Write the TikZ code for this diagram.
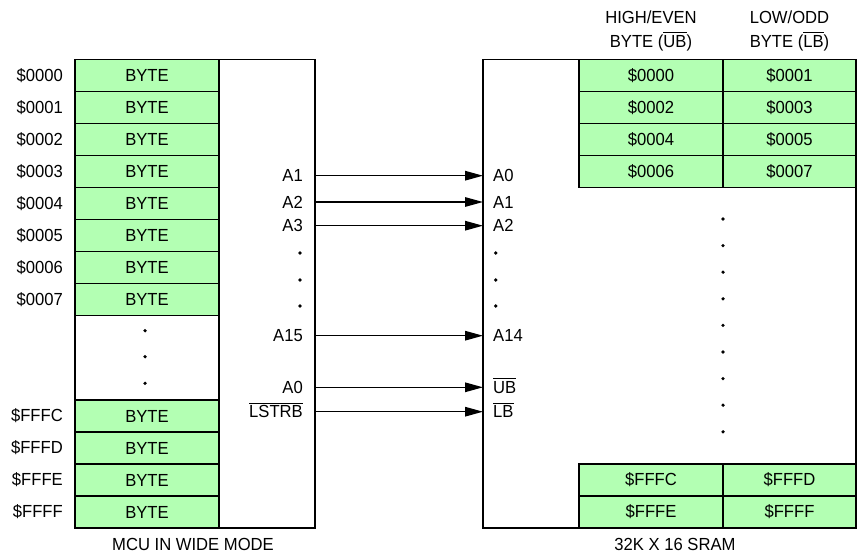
\documentclass[tikz,border=0pt]{standalone}
\usepackage{fontspec}
\setmainfont{Liberation Sans}[FakeStretch=0.95]
\usetikzlibrary{positioning,arrows.meta}
\definecolor{cellgreen}{RGB}{179,255,179}
\newcommand{\ovl}[1]{\begingroup\setbox0\hbox{#1}\rlap{\rule[14.2pt]{\wd0}{1.1pt}}\box0\endgroup}
\tikzset{
  box/.style={draw,line width=1.5pt,inner sep=0pt,outer sep=0pt},
  cell/.style={box,fill=cellgreen,minimum height=32pt},
  addr/.style={inner sep=0pt},
  sigl/.style={anchor=east,inner sep=0pt,text height=12.5pt,text depth=0pt},
  sigr/.style={anchor=west,inner sep=0pt,text height=12.5pt,text depth=0pt},
  head/.style={align=center,inner sep=0pt},
  sig/.style={line width=1.4pt,-{Triangle[length=18pt,width=9.5pt]}},
  dot/.style={fill=black},
}

\begin{document}
\begin{tikzpicture}[x=1pt,y=-1pt,font=\fontsize{17.5pt}{23.5pt}\selectfont]
  \useasboundingbox (0,0) rectangle (857,556);
  % MCU side
  \node[box,minimum width=240pt,minimum height=468.5pt] (mcu) at (195,293.75) {};
  \foreach \i/\a in {0/0000,1/0001,2/0002,3/0003,4/0004,5/0005,6/0006,7/0007} {
    \node[cell,minimum width=144pt] (m\i) at (147,75.5+32*\i) {BYTE};
    \node[addr,left=12pt of m\i] (ma\i) {\$\a};
  }
  \foreach \i/\a in {8/FFFC,9/FFFD,10/FFFE,11/FFFF} {
    \node[cell,minimum width=144pt] (m\i) at (147,416+32*\i-256) {BYTE};
    \node[addr,left=12pt of m\i] (ma\i) {\$\a};
  }
  \draw[line width=1.5pt] (m7.south east) -- (m8.north east);
  \foreach \y in {330.7,356.7,383.3} {\fill[dot] (145,\y) circle (1.8pt);}
  \node (capM) at (193,544) {MCU IN WIDE MODE};

  % SRAM side
  \node[box,minimum width=373pt,minimum height=468.5pt] (sram) at (669.5,293.75) {};
  \foreach \i/\e/\o in {0/0000/0001,1/0002/0003,2/0004/0005,3/0006/0007} {
    \node[cell,minimum width=144pt] (e\i) at (651,75.5+32*\i) {\$\e};
    \node[cell,minimum width=133pt,right=0pt of e\i] (o\i) {\$\o};
  }
  \foreach \i/\e/\o in {4/FFFC/FFFD,5/FFFE/FFFF} {
    \node[cell,minimum width=144pt] (e\i) at (651,480+32*\i-128) {\$\e};
    \node[cell,minimum width=133pt,right=0pt of e\i] (o\i) {\$\o};
  }
  \foreach \k in {0,...,8} {\fill[dot] (723,219+26.6*\k) circle (1.8pt);}
  \node[head] (hEven) at (651,31) {HIGH/EVEN\\BYTE (\ovl{UB})};
  \node[head] (hOdd) at (789.5,31) {LOW/ODD\\BYTE (\ovl{LB})};
  \node (capS) at (675,544) {32K X 16 SRAM};

  % address and strobe lines
  \node[sigl] (pA1) at (303,175.7) {A1};
  \node[sigl] (pA2) at (303,202) {A2};
  \node[sigl] (pA3) at (303,225.7) {A3};
  \node[sigl] (pA15) at (303,335.7) {A15};
  \node[sigl] (pA0) at (303,387.3) {A0};
  \node[sigl] (pLS) at (303,411.7) {\ovl{LSTRB}};
  \node[sigr] (qA0) at (493,175.7) {A0};
  \node[sigr] (qA1) at (493,202) {A1};
  \node[sigr] (qA2) at (493,225.7) {A2};
  \node[sigr] (qA14) at (493,335.7) {A14};
  \node[sigr] (qUB) at (493,387.3) {\ovl{UB}};
  \node[sigr] (qLB) at (493,411.7) {\ovl{LB}};
  \foreach \y in {253,280,306} {
    \fill[dot] (300,\y) circle (1.8pt);
    \fill[dot] (495.7,\y) circle (1.8pt);
  }
  \foreach \p/\q in {pA1/qA0,pA2/qA1,pA3/qA2,pA15/qA14,pA0/qUB,pLS/qLB}
    {\draw[sig] (mcu.east |- \p) -- (sram.west |- \q);}
\end{tikzpicture}
\end{document}
